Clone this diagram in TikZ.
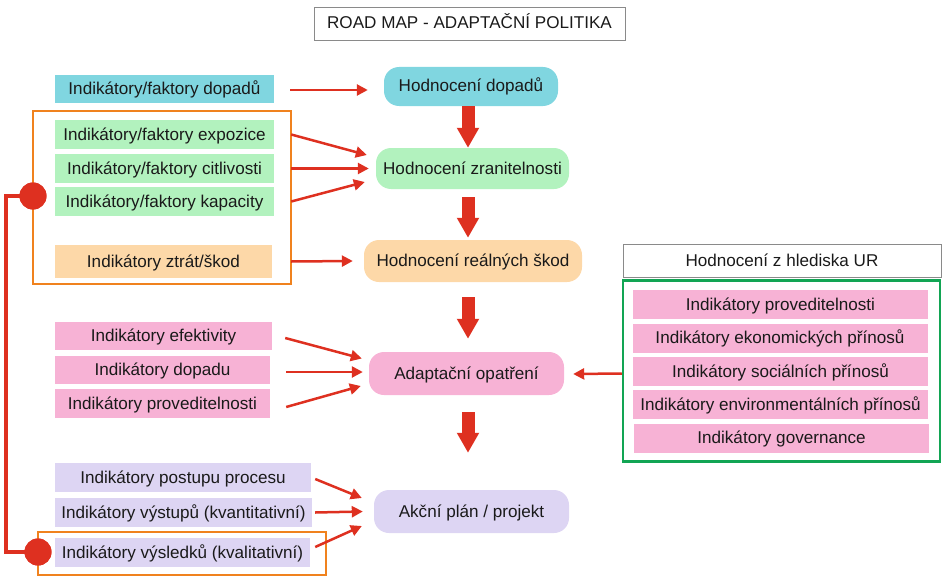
\documentclass[tikz,border=0pt]{standalone}
\usepackage{fontspec}
\setmainfont{Liberation Sans}
\usetikzlibrary{arrows.meta,calc}
\definecolor{cCyan}{HTML}{80D6E0}
\definecolor{cGreen}{HTML}{B2F2BE}
\definecolor{cPeach}{HTML}{FDD8A8}
\definecolor{cPink}{HTML}{F7B2D5}
\definecolor{cLav}{HTML}{DDD5F3}
\definecolor{cRed}{HTML}{DE3020}
\definecolor{cOrange}{HTML}{F0821E}
\definecolor{cFrameG}{HTML}{12A554}
\definecolor{cTxt}{HTML}{1A1A1A}
\definecolor{cGray}{HTML}{8A8A8A}
\begin{document}
\begin{tikzpicture}[x=1pt,y=-1pt,
  font=\fontsize{17.1}{20}\selectfont,
  box/.style={rectangle, inner sep=0pt, text=cTxt, text height=12.5pt, text depth=1.5pt},
  rbox/.style={box, rounded corners=15pt},
  frame/.style={rectangle, inner sep=0pt, line width=2.5pt},
  graybox/.style={box, draw=cGray, line width=0.9pt},
  thinarrow/.style={draw=cRed, line width=2.5pt, -{Triangle[length=11pt,width=11pt]}},
  bigarrow/.style={draw=cRed, line width=13pt, -{Triangle[length=20pt,width=21pt]}},
  redline/.style={draw=cRed, line width=3.5pt},
  dot/.style={circle, fill=cRed, inner sep=0pt, minimum size=27pt}]
\useasboundingbox (0,0) rectangle (942,578);

% title
\node[graybox, minimum width=311pt, minimum height=33pt] (title) at (469.5,23.5) {ROAD MAP - ADAPTAČNÍ POLITIKA};

% frames
\node[frame, draw=cOrange, minimum width=258pt, minimum height=173pt] (of1) at (162,197.5) {};
\node[frame, draw=cOrange, minimum width=288pt, minimum height=43pt] (of2) at (182,553.5) {};
\node[graybox, minimum width=318pt, minimum height=33pt] (urt) at (782,260.5) {Hodnocení z hlediska UR};
\node[frame, draw=cFrameG, minimum width=317pt, minimum height=181pt] (gf) at (781.5,371) {};

% left boxes
\node[box, fill=cCyan, minimum width=219pt, minimum height=28pt] (d1) at (164.5,89) {Indikátory/faktory dopadů};
\node[box, fill=cGreen, minimum width=219pt, minimum height=29pt] (e1) at (164.5,134.5) {Indikátory/faktory expozice};
\node[box, fill=cGreen, minimum width=219pt, minimum height=29pt] (e2) at (164.5,168.5) {Indikátory/faktory citlivosti};
\node[box, fill=cGreen, minimum width=219pt, minimum height=29pt] (e3) at (164.5,201.5) {Indikátory/faktory kapacity};
\node[box, fill=cPeach, minimum width=217pt, minimum height=33pt] (z1) at (163.5,261.5) {Indikátory ztrát/škod};
\node[box, fill=cPink, minimum width=217pt, minimum height=28pt] (p1) at (163.5,336) {Indikátory efektivity};
\node[box, fill=cPink, minimum width=215pt, minimum height=28pt] (p2) at (162.5,369.5) {Indikátory dopadu};
\node[box, fill=cPink, minimum width=215pt, minimum height=29pt] (p3) at (162.5,403.5) {Indikátory proveditelnosti};
\node[box, fill=cLav, minimum width=256pt, minimum height=29pt] (l1) at (183,477.5) {Indikátory postupu procesu};
\node[box, fill=cLav, minimum width=257pt, minimum height=29pt] (l2) at (183.5,512.5) {Indikátory výstupů (kvantitativní)};
\node[box, fill=cLav, minimum width=255pt, minimum height=29pt] (l3) at (182.5,552.5) {Indikátory výsledků (kvalitativní)};

% right boxes
\node[box, fill=cPink, minimum width=295pt, minimum height=29pt] (r1) at (780.5,304.5) {Indikátory proveditelnosti};
\node[box, fill=cPink, minimum width=295pt, minimum height=29pt] (r2) at (780,338) {Indikátory ekonomických přínosů};
\node[box, fill=cPink, minimum width=295pt, minimum height=29pt] (r3) at (780.5,371.5) {Indikátory sociálních přínosů};
\node[box, fill=cPink, minimum width=295pt, minimum height=29pt] (r4) at (780.5,404.5) {Indikátory environmentálních přínosů};
\node[box, fill=cPink, minimum width=295pt, minimum height=29pt] (r5) at (781.5,438) {Indikátory governance};

% center nodes
\node[rbox, fill=cCyan, minimum width=174pt, minimum height=39pt] (hd) at (471,86.5) {Hodnocení dopadů};
\node[rbox, fill=cGreen, minimum width=193pt, minimum height=41pt] (hz) at (472.5,168.5) {Hodnocení zranitelnosti};
\node[rbox, fill=cPeach, minimum width=218pt, minimum height=42pt] (hs) at (473,261) {Hodnocení reálných škod};
\node[rbox, fill=cPink, minimum width=195pt, minimum height=43pt] (ha) at (466.5,373.5) {Adaptační opatření};
\node[rbox, fill=cLav, minimum width=195pt, minimum height=43pt] (hp) at (471.5,511.5) {Akční plán / projekt};

% big arrows
\coordinate (ax) at (468,0);
\draw[bigarrow] (hd.south -| ax) -- (hz.north -| ax);
\draw[bigarrow, shorten <=8pt, shorten >=2pt] (hz.south -| ax) -- (hs.north -| ax);
\draw[bigarrow, shorten <=15pt, shorten >=13pt] (hs.south -| ax) -- (ha.north -| ax);
\draw[bigarrow, shorten <=17pt, shorten >=37pt] (ha.south -| ax) -- (hp.north -| ax);

% thin arrows
\draw[thinarrow] ([xshift=16pt,yshift=-1pt]d1.east) -- ([xshift=-16pt,yshift=-1pt]d1.east -| hd.west);
\draw[thinarrow] ([xshift=17pt]e1.east) -- ([xshift=-9pt,yshift=13.5pt]hz.west);
\draw[thinarrow] ([xshift=17pt]e2.east) -- ([xshift=-7pt]hz.west);
\draw[thinarrow] ([xshift=17pt]e3.east) -- ([xshift=-11pt,yshift=-13.5pt]hz.west);
\draw[thinarrow] ([xshift=19pt]z1.east) -- ([xshift=-11pt]hs.west);
\draw[thinarrow] ([xshift=13pt,yshift=-2pt]p1.east) -- ([xshift=-7pt,yshift=15pt]ha.west);
\draw[thinarrow] ([xshift=16pt,yshift=-2.5pt]p2.east) -- ([xshift=-6pt,yshift=1.5pt]ha.west);
\draw[thinarrow] ([xshift=16pt,yshift=-3.5pt]p3.east) -- ([xshift=-8pt,yshift=-12.5pt]ha.west);
\draw[thinarrow] ([xshift=4pt,yshift=-1.5pt]l1.east) -- ([xshift=-12pt,yshift=13.5pt]hp.west);
\draw[thinarrow] ([xshift=3pt]l2.east) -- ([xshift=-11pt]hp.west);
\draw[thinarrow] ([xshift=5pt,yshift=5.5pt]l3.east) -- ([xshift=-12pt,yshift=-14.5pt]hp.west);
\draw[thinarrow] ([yshift=-2.5pt]gf.west) -- ([xshift=9pt,yshift=-0.5pt]ha.east);

% left feedback line with dots
\coordinate (lc) at (6,552);
\node[dot] (dot1) at (33,196) {};
\node[dot] (dot2) at (38,552) {};
\draw[redline] (dot1.center) -| (lc) -- (dot2.center);
\node[dot] at (dot1) {};
\node[dot] at (dot2) {};
\end{tikzpicture}
\end{document}
